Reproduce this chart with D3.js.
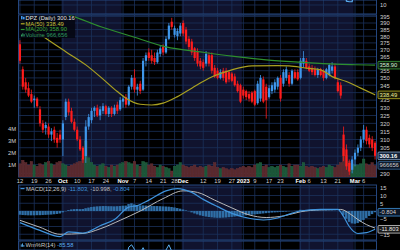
<!DOCTYPE html>
<html><head><meta charset="utf-8">
<script src="https://cdn.jsdelivr.net/npm/d3@7"></script>
<style>html,body{margin:0;padding:0;background:#000;overflow:hidden}svg{display:block;font-family:"Liberation Sans",Arial,sans-serif}</style>
</head><body><svg id="c" width="400" height="250"></svg>
<script>
// ---------- DATA ----------
const startDay = "2022-09-12", endDay = "2023-03-10";
const holidays = ["2022-11-24","2022-12-26","2023-01-02","2023-01-16","2023-02-20"];

const opens  = [374,356,347,343,339,335,336,329,320,317, 318,313,316,311,313, 310,324,334,328,321, 316,310,305,300,318, 322,328,330,325,328, 331,326,330,326,332, 329,334,337,332,344, 350,342,346,342,362, 368,366,364,361,367, 372,368,378,391,381, 380,382,390,385,378, 376,371,369,362,361, 360,366,366,357,355, 350,355,355,354,353, 351,346,345,342,341, 339,340,341,333,336, 349,344,337,341,342, 344,350,346,350,352, 346,354,354,350,360, 362,358,357,356,352, 356,355,350,352,355, 358,347,345,313,304, 296,292,298,302,305, 310,316,311,310,308];
const highs  = [377,358,350,347,342,338,337,331,322,321, 320,317,318,314,316, 322,336,336,330,323, 318,312,306,322,326, 330,331,332,331,333, 332,331,331,332,334, 337,338,339,345,352, 356,346,348,364,368, 371,370,368,370,373, 374,380,390,394,388, 386,390,392,387,380, 378,372,371,364,363, 369,368,368,359,357, 356,357,357,355,354, 353,348,346,344,342, 341,341,342,348,352, 351,346,345,347,349, 351,352,356,358,354, 356,356,356,364,369, 364,360,359,358,357, 357,356,357,360,361, 360,349,347,318,307, 298,300,304,307,312, 319,318,313,312,309];
const lows   = [360,342,340,337,333,330,330,318,314,313, 311,309,308,305,308, 300,322,325,320,315, 309,303,296,296,316, 320,324,324,322,326, 325,324,324,325,326, 328,330,330,331,342, 340,338,339,341,358, 362,360,359,360,365, 366,367,377,385,379, 377,380,380,374,370, 366,362,358,356,355, 358,358,353,350,349, 349,348,346,347,347, 344,340,333,336,335, 334,333,331,332,334, 333,323,336,339,340, 342,334,344,348,344, 345,349,348,349,357, 356,354,352,351,350, 351,348,349,351,353, 349,340,336,297,292, 289,290,294,300,303, 308,307,305,303,298];
const closes = [362,344,342,338,334,336,331,320,316,319, 313,315,310,308,310, 320,334,327,321,316, 310,304,298,318,324, 328,330,325,329,331, 326,330,326,330,328, 335,336,332,344,350, 342,344,341,362,366, 364,362,361,368,371, 368,378,388,387,386, 384,388,382,376,372, 368,364,360,358,357, 367,360,355,351,350, 354,350,347,349,348, 345,341,334,338,337, 336,334,332,346,350, 334,335,343,345,347, 350,336,354,356,346, 355,350,349,362,364, 357,355,354,352,356, 352,350,356,359,358, 350,341,338,300,294, 291,298,302,305,310, 316,309,307,305,300.16];
const volumesM = [1.1,1.4,1.2,1.0,1.3, 1.0,0.9,1.1,1.0,1.2, 1.3,1.1,1.0,1.2,1.3, 1.1,1.0,0.9,1.0,1.1, 1.2,1.3,1.5,3.0,1.6, 1.2,1.0,0.9,1.0,1.1, 0.9,0.8,1.0,0.9,1.0, 1.1,1.2,1.3,1.2,1.1, 1.3,1.0,0.9,1.3,1.2, 1.0,1.1,0.9,0.8,1.0, 0.9,0.8,0.7,0.5,0.9, 1.0,1.2,1.0,0.9,0.8, 0.9,1.0,0.8,0.9,0.8, 0.9,1.0,0.9,1.2,0.8, 0.7,0.8,0.7,0.6,0.7, 0.6,0.7,0.8,0.9,0.8, 0.9,0.8,1.0,1.1,1.2, 0.9,1.0,0.8,0.9,0.8, 0.9,1.0,0.9,0.8,1.1, 0.9,1.0,1.0,0.9,1.2, 0.9,0.8,0.9,0.8,0.7, 0.8,0.9,0.8,1.0,0.9, 0.8,1.0,1.2,2.4,1.8, 1.3,1.1,1.0,1.0,1.1, 1.5,1.1,1.0,1.2,0.966656];

const ma50Dates  = ["2022-09-12","2022-09-23","2022-10-04","2022-10-13","2022-10-20","2022-10-28","2022-11-02","2022-11-09","2022-11-15","2022-11-21","2022-11-29","2022-12-06","2022-12-14","2022-12-27","2023-01-06","2023-01-20","2023-01-26","2023-02-03","2023-02-10","2023-02-16","2023-02-24","2023-03-03","2023-03-10"];
const ma50Vals   = [392.4,378.5,368.6,359.1,350.9,340.7,336.3,332.3,331.8,333.0,337.3,343.0,349.8,355.6,358.4,358.6,358.4,356.8,355.6,350.9,347.5,343.0,338.49];
const ma200Dates = ["2022-09-12","2022-09-26","2022-10-05","2022-10-20","2022-11-07","2022-11-22","2022-12-09","2022-12-27","2023-01-13","2023-02-01","2023-02-17","2023-03-01","2023-03-10"];
const ma200Vals  = [404,400,396.3,387.3,379.2,372.1,368.4,365.3,362.7,361.0,359.6,359.2,358.90];

const macdDates = ["2022-09-12","2022-09-21","2022-09-30","2022-10-05","2022-10-12","2022-10-20","2022-10-27","2022-11-03","2022-11-08","2022-11-14","2022-11-22","2022-11-29","2022-12-06","2022-12-12","2022-12-19","2022-12-27","2023-01-05","2023-01-12","2023-01-20","2023-01-26","2023-02-01","2023-02-10","2023-02-21","2023-02-23","2023-02-27","2023-03-02","2023-03-07","2023-03-10"];
const macdVals  = [-7.5,-12.5,-16.5,-13.5,-14.2,-9.5,-5.5,2.5,3.5,7.0,13.0,14.5,12.0,7.5,2.8,-1.5,-4.7,-5.8,-4.5,-2.0,0.0,1.0,1.1,-3.5,-10.0,-14.5,-14.0,-11.803];
const signalDates = ["2022-09-12","2022-09-21","2022-09-30","2022-10-12","2022-10-20","2022-10-31","2022-11-09","2022-11-21","2022-12-01","2022-12-08","2022-12-16","2022-12-27","2023-01-05","2023-01-13","2023-01-24","2023-02-01","2023-02-10","2023-02-22","2023-02-27","2023-03-02","2023-03-07","2023-03-10"];
const signalVals  = [-6.0,-10.5,-15.0,-14.5,-11.5,-6.0,0.0,8.0,13.0,12.0,7.0,2.0,-2.5,-4.2,-3.2,-0.5,0.8,1.0,-1.5,-5.5,-8.8,-10.998];
const histVals = [-2.4,-2.6,-2.7,-2.8,-2.8,-2.8,-2.7,-2.7,-2.6,-2.5,-2.4,-2.3,-2.1,-1.9,-1.6,
 -0.9,-0.2,0.6,1.0,1.2,1.3,1.2,1.3,1.8,2.2,2.6,2.8,3.0,3.1,3.2,
 3.2,3.1,3.1,3.0,3.1,3.2,3.4,3.5,4.5,5.0,4.3,3.8,3.6,3.6,3.5,
 3.4,3.3,3.2,3.2,3.1,3.0,2.9,2.8,2.6,2.3,1.9,1.5,1.0,0.4,-0.2,
 -0.9,-1.6,-2.2,-2.8,-3.2,-3.6,-3.9,-4.1,-4.3,-4.4,-4.4,-4.3,-4.2,-4.0,-3.8,
 -3.6,-3.4,-3.2,-3.0,-2.8,-2.6,-2.4,-2.2,-2.0,-1.8,-1.6,-1.4,-1.2,-1.0,-0.9,
 -0.8,-0.6,-0.5,-0.4,-0.2,-0.1,0.1,0.2,0.8,0.7,0.7,0.6,0.6,0.5,0.5,
 0.4,0.4,0.4,0.3,0.3,0.2,0.1,-0.3,-2.5,-5.0,-7.0,-8.0,-8.2,-7.8,-7.0,
 -5.8,-4.5,-3.2,-2.0,-0.804];

const wmrDates = ["2022-10-31","2022-11-02","2022-11-03","2022-11-04","2022-11-07","2022-11-08","2022-11-09","2022-11-10","2022-11-11","2022-11-16","2022-11-21","2022-11-23","2022-11-25","2022-11-29"];
const wmrVals  = [-40,-30,-8,-4,-12,-25,-18,-9,-20,-35,-22,-4,-15,-30];
const topDates = ["2023-02-23","2023-02-24","2023-02-27","2023-02-28","2023-03-01"];
const topVals  = [30,13.2,12.7,12.8,30];

const tickDates  = ["2022-09-12","2022-09-19","2022-09-26","2022-10-03","2022-10-10","2022-10-17","2022-10-24","2022-11-01","2022-11-07","2022-11-14","2022-11-21","2022-11-28","2022-12-01","2022-12-12","2022-12-19","2022-12-27","2023-01-03","2023-01-09","2023-01-17","2023-01-23","2023-02-01","2023-02-06","2023-02-13","2023-02-21","2023-03-01","2023-03-06"];
const tickLabels = ["12","19","26","Oct","10","17","24","Nov","7","14","21","28","Dec","12","19","27","2023","9","17","23","Feb","6","13","21","Mar","6"];
const priceTicks = [290,305,310,315,320,325,330,335,345,350,355,365,370,375,380,385,390,395];
const volTicks = [1,2,3,4];
const volTickLabels = ["1M","2M","3M","4M"];
const macdTicks = [15,10,5,-5,-15];

// ---------- SETUP ----------
const parse = d3.utcParse("%Y-%m-%d"), fmt = d3.utcFormat("%Y-%m-%d");
const days = d3.utcDay.range(parse(startDay), d3.utcDay.offset(parse(endDay), 1))
  .filter(d => d.getUTCDay() !== 0 && d.getUTCDay() !== 6).map(fmt)
  .filter(s => !holidays.includes(s));

const svg = d3.select("#c");
const W = 400, H = 250, L = 18.5, R = 376.5;
const P = {top: 15, bot: 177}, M = {top: 185, bot: 240}, WR = {top: 241, bot: 250}, T = {top: 0, bot: 14};

const x = d3.scaleBand().domain(days).range([L, R]).padding(0);
const bw = x.bandwidth();
const cx = d => x(d) + bw / 2;
const yP = d3.scaleLog().domain([287.9, 396.2]).range([P.bot, P.top]);
const yV = d3.scaleLinear().domain([0, 4]).range([P.bot, P.bot - 48]);
const yM = d3.scaleLinear().domain([-15, 15]).range([234.25, 187.75]);
const yW = d3.scaleLinear().domain([-100, 0]).range([300, 242.5]);
const yT = d3.scaleLinear().domain([0, 10]).range([17, 5]);

svg.append("rect").attr("width", W).attr("height", H).attr("fill", "#000");

// month bands
const months = d3.groups(days, d => d.slice(0, 7));
const panels = [T, P, M, WR];
const defs = svg.append("defs");
panels.forEach((p, i) => {
  defs.append("clipPath").attr("id", "clip" + i).append("rect")
    .attr("x", L).attr("y", p.top).attr("width", R - L).attr("height", p.bot - p.top);
  months.forEach((m, j) => {
    if (j % 2 === 1) {
      const a = m[1][0], b = m[1][m[1].length - 1];
      svg.append("rect").attr("x", x(a)).attr("y", p.top).attr("width", x(b) + bw - x(a))
        .attr("height", p.bot - p.top).attr("fill", "#10132e");
    }
  });
});

// grid
const gridC = "#1b315b";
const grid = svg.append("g").attr("stroke", gridC).attr("stroke-width", 0.8);
panels.forEach(p => {
  tickDates.forEach(d => grid.append("line").attr("x1", cx(d)).attr("x2", cx(d)).attr("y1", p.top).attr("y2", p.bot));
});
d3.range(290, 396, 5).forEach(v => grid.append("line").attr("x1", L).attr("x2", R).attr("y1", yP(v)).attr("y2", yP(v)));
[15,10,5,0,-5,-10,-15].forEach(v => grid.append("line").attr("x1", L).attr("x2", R).attr("y1", yM(v)).attr("y2", yM(v)));
grid.append("line").attr("x1", L).attr("x2", R).attr("y1", yT(10)).attr("y2", yT(10));

// panel frames
const frame = svg.append("g").attr("fill", "none").attr("stroke", "#24467e").attr("stroke-width", 1);
panels.forEach(p => frame.append("rect").attr("x", L).attr("y", p.top).attr("width", R - L).attr("height", p.bot - p.top));

// top strip indicator
svg.append("path").attr("clip-path", "url(#clip0)")
  .datum(topDates.map((d, i) => [d, topVals[i]]))
  .attr("fill", "none").attr("stroke", "#5aaef0").attr("stroke-width", 1.2)
  .attr("d", d3.line().x(d => cx(d[0])).y(d => yT(d[1])));

// price panel
const gp = svg.append("g").attr("clip-path", "url(#clip1)");
const up = i => closes[i] >= opens[i];
gp.selectAll("rect.vol").data(days).join("rect").attr("class", "vol")
  .attr("x", d => x(d) + 0.15).attr("width", bw - 0.3)
  .attr("y", (d, i) => yV(volumesM[i])).attr("height", (d, i) => yV(0) - yV(volumesM[i]))
  .attr("fill", (d, i) => up(i) ? "#1b5638" : "#58292d")
  .attr("stroke", (d, i) => up(i) ? "#236b46" : "#6e3338").attr("stroke-width", 0.4);

const candleC = i => up(i) ? "#3f97ec" : "#ff1c1c";
gp.selectAll("line.wick").data(days).join("line").attr("class", "wick")
  .attr("x1", cx).attr("x2", cx).attr("y1", (d, i) => yP(highs[i])).attr("y2", (d, i) => yP(lows[i]))
  .attr("stroke", (d, i) => candleC(i)).attr("stroke-width", 0.8);
gp.selectAll("rect.body").data(days).join("rect").attr("class", "body")
  .attr("x", d => cx(d) - 1.1).attr("width", 2.2)
  .attr("y", (d, i) => yP(Math.max(opens[i], closes[i])))
  .attr("height", (d, i) => Math.max(1, yP(Math.min(opens[i], closes[i])) - yP(Math.max(opens[i], closes[i]))))
  .attr("fill", (d, i) => candleC(i));

const maLine = d3.line().x(d => cx(d[0])).y(d => yP(d[1])).curve(d3.curveMonotoneX);
gp.append("path").datum(ma200Dates.map((d, i) => [d, ma200Vals[i]])).attr("fill", "none")
  .attr("stroke", "#2e8f2e").attr("stroke-width", 1.2).attr("d", maLine);
gp.append("path").datum(ma50Dates.map((d, i) => [d, ma50Vals[i]])).attr("fill", "none")
  .attr("stroke", "#a9a021").attr("stroke-width", 1.2).attr("d", maLine);

// macd panel
const gm = svg.append("g").attr("clip-path", "url(#clip2)");
gm.selectAll("rect.h").data(days).join("rect").attr("class", "h")
  .attr("x", d => x(d)).attr("width", bw - 0.4)
  .attr("y", (d, i) => Math.min(yM(0), yM(histVals[i])))
  .attr("height", (d, i) => Math.abs(yM(histVals[i]) - yM(0)))
  .attr("fill", "#2f6ea6");
const mLine = d3.line().x(d => cx(d[0])).y(d => yM(d[1])).curve(d3.curveMonotoneX);
gm.append("path").datum(signalDates.map((d, i) => [d, signalVals[i]])).attr("fill", "none")
  .attr("stroke", "#b9b9b9").attr("stroke-width", 1).attr("d", mLine);
gm.append("path").datum(macdDates.map((d, i) => [d, macdVals[i]])).attr("fill", "none")
  .attr("stroke", "#3f93dc").attr("stroke-width", 1.2).attr("d", mLine);

// wm%r panel
svg.append("g").attr("clip-path", "url(#clip3)").append("path")
  .datum(wmrDates.map((d, i) => [d, wmrVals[i]])).attr("fill", "none")
  .attr("stroke", "#5aaef0").attr("stroke-width", 1)
  .attr("d", d3.line().x(d => cx(d[0])).y(d => yW(d[1])));

// ---------- AXES ----------
const FS = 5.8;
function styleAxis(g, color) {
  g.select(".domain").remove();
  g.selectAll("text").attr("fill", color || "#d0d0d0").style("font-size", FS + "px")
    .style("font-family", '"Liberation Sans",Arial,sans-serif');
}
svg.append("g").attr("transform", `translate(${R + 1},0)`)
  .call(d3.axisRight(yP).tickValues(priceTicks).tickSize(0).tickPadding(2.5).tickFormat(d3.format("d")))
  .call(styleAxis);
svg.append("g").attr("transform", `translate(${R + 1},0)`)
  .call(d3.axisRight(yM).tickValues(macdTicks).tickSize(0).tickPadding(2.5).tickFormat(d3.format("d")))
  .call(styleAxis);
svg.append("g").attr("transform", `translate(${R + 1},0)`)
  .call(d3.axisRight(yT).tickValues([10]).tickSize(0).tickPadding(2.5)).call(styleAxis);
svg.append("g").attr("transform", `translate(${L - 1.5},0)`)
  .call(d3.axisLeft(yV).tickValues(volTicks).tickSize(0).tickPadding(1).tickFormat((d, i) => volTickLabels[i]))
  .call(styleAxis);
const xa = svg.append("g").attr("transform", `translate(0,${P.bot})`)
  .call(d3.axisBottom(x).tickValues(tickDates).tickSize(0).tickPadding(2).tickFormat((d, i) => tickLabels[i]))
  .call(styleAxis);
xa.selectAll("text").filter((d, i) => isNaN(+tickLabels[i]) || tickLabels[i] === "2023")
  .attr("fill", "#ffffff").style("font-weight", "bold");

// value boxes on right axis
function valBox(y, txt, stroke, fill, tcol, bold) {
  const g = svg.append("g");
  g.append("rect").attr("x", R + 1.5).attr("y", y - 3.8).attr("width", 23).attr("height", 7.6).attr("rx", 1)
    .attr("fill", fill).attr("stroke", stroke).attr("stroke-width", 0.8);
  g.append("text").attr("x", R + 3).attr("y", y).attr("dy", "0.35em").text(txt)
    .attr("fill", tcol).style("font-size", FS + "px").style("font-weight", bold ? "bold" : "normal");
}
valBox(yP(ma200Vals[ma200Vals.length - 1]), ma200Vals[ma200Vals.length - 1].toFixed(2), "#3c9c3c", "#0b1a0b", "#d8ecd8");
valBox(yP(ma50Vals[ma50Vals.length - 1]), ma50Vals[ma50Vals.length - 1].toFixed(2), "#b8b024", "#1a1a06", "#ecec9a");
valBox(yP(closes[closes.length - 1]), closes[closes.length - 1].toFixed(2), "#8aa6c8", "#13233a", "#ffffff", true);
valBox(yV(volumesM[volumesM.length - 1]), d3.format("d")(volumesM[volumesM.length - 1] * 1e6), "#3a6a9a", "#0b1626", "#d0d0d0");
valBox(yM(histVals[histVals.length - 1]), histVals[histVals.length - 1].toFixed(3), "#3f93dc", "#0b1626", "#d0d0d0");
valBox(yM(macdVals[macdVals.length - 1]), macdVals[macdVals.length - 1].toFixed(3), "#cfcfcf", "#1a1a1a", "#e8e8e8");

// ---------- LEGENDS ----------
const lg = svg.append("g");
lg.append("rect").attr("x", L + 0.5).attr("y", P.top + 0.5).attr("width", 56).attr("height", 22.5).attr("fill", "rgba(4,7,18,0.88)");
const legendRows = [
  {t: [["DPZ (Daily) ", "#e6e6e6"], [closes[closes.length - 1].toFixed(2), "#e6e6e6"]], icon: "candle", c: "#3f97ec"},
  {t: [["MA(50) " + ma50Vals[ma50Vals.length - 1].toFixed(2), "#c9c03a"]], icon: "line", c: "#b8b024"},
  {t: [["MA(200) " + ma200Vals[ma200Vals.length - 1].toFixed(2), "#3aa83a"]], icon: "line", c: "#2e9a2e"},
  {t: [["Volume " + d3.format(",")(Math.round(volumesM[volumesM.length - 1] * 1e6)), "#2f9a5e"]], icon: "bars", c: "#2f9a5e"}
];
legendRows.forEach((r, i) => {
  const y = P.top + 2.8 + i * 5.7;
  if (r.icon === "candle") {
    lg.append("rect").attr("x", 21).attr("y", y - 1.8).attr("width", 1.6).attr("height", 3.4).attr("fill", r.c);
    lg.append("rect").attr("x", 23).attr("y", y - 1).attr("width", 1.6).attr("height", 2.6).attr("fill", r.c);
  } else if (r.icon === "line") {
    lg.append("line").attr("x1", 20.8).attr("x2", 24.6).attr("y1", y + 0.3).attr("y2", y + 0.3).attr("stroke", r.c).attr("stroke-width", 1.2);
  } else {
    [[21, 2], [22.3, 3.2], [23.6, 2.4]].forEach(b => lg.append("rect").attr("x", b[0]).attr("y", y + 1.6 - b[1]).attr("width", 1).attr("height", b[1]).attr("fill", r.c));
  }
  const t = lg.append("text").attr("x", 25.5).attr("y", y).attr("dy", "0.35em").style("font-size", FS + "px");
  r.t.forEach(s => t.append("tspan").text(s[0]).attr("fill", s[1]));
});

const ml = svg.append("g");
ml.append("line").attr("x1", 20.5).attr("x2", 24.5).attr("y1", M.top + 3.6).attr("y2", M.top + 3.6).attr("stroke", "#3f93dc").attr("stroke-width", 1.2);
const mt = ml.append("text").attr("x", 26).attr("y", M.top + 3.6).attr("dy", "0.35em").style("font-size", FS + "px");
mt.append("tspan").text("MACD(12,26,9) ").attr("fill", "#c8c8c8");
mt.append("tspan").text(macdVals[macdVals.length - 1].toFixed(3) + ", ").attr("fill", "#3f93dc");
mt.append("tspan").text(signalVals[signalVals.length - 1].toFixed(3) + ", ").attr("fill", "#bdbdbd");
mt.append("tspan").text(histVals[histVals.length - 1].toFixed(3)).attr("fill", "#3f93dc");

const wl = svg.append("g");
[[20.8, 2.4], [22.1, 3.4], [23.4, 1.8]].forEach(b => wl.append("rect").attr("x", b[0]).attr("y", 246.8 - b[1]).attr("width", 0.9).attr("height", b[1]).attr("fill", "#5aaef0"));
const wt = wl.append("text").attr("x", 25.5).attr("y", 245.2).attr("dy", "0.35em").style("font-size", FS + "px");
wt.append("tspan").text("Wm%R(14) ").attr("fill", "#c8c8c8");
wt.append("tspan").text("-85.58").attr("fill", "#5aaef0");
</script></body></html>
